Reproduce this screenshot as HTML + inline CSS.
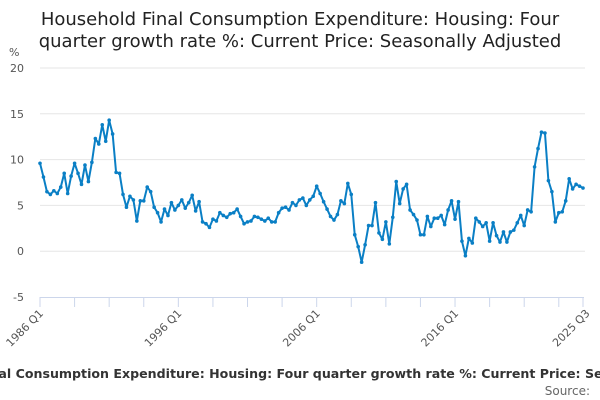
<!DOCTYPE html>
<html><head><meta charset="utf-8"><style>
html,body{margin:0;padding:0;background:#fff;width:600px;height:400px;overflow:hidden;font-family:"Liberation Sans","DejaVu Sans",sans-serif}
svg text{font-family:"DejaVu Sans","Liberation Sans",sans-serif}
</style></head><body>
<svg id="chart" width="600" height="400" viewBox="0 0 600 400">
<text x="300" y="25" text-anchor="middle" font-size="18" fill="#222">Household Final Consumption Expenditure: Housing: Four</text>
<text x="300" y="47" text-anchor="middle" font-size="18" fill="#222">quarter growth rate %: Current Price: Seasonally Adjusted</text>
<text x="9" y="56" font-size="11" fill="#555">%</text>
<g id="grid"></g><g id="xaxis"></g><g id="series"></g>
<text x="313" y="378" text-anchor="middle" font-size="12.6" font-weight="bold" fill="#333">Household Final Consumption Expenditure: Housing: Four quarter growth rate %: Current Price: Seasonally Adjusted</text>
<text x="590" y="395" text-anchor="end" font-size="12" fill="#666">Source:</text>
</svg>
<script>
const yTicks=[20,15,10,5,0,-5];
const xLabels=["1986 Q1","1996 Q1","2006 Q1","2016 Q1","2025 Q3"];
const xLabelIdx=[0,40,80,120,158];
const values=[
9.6,8.1,6.5,6.2, 6.6,6.3,7.0,8.5, 6.3,8.2,9.6,8.5, 7.3,9.4,7.6,9.7,
12.3,11.7,13.8,12.0, 14.3,12.8,8.6,8.5, 6.2,4.8,6.0,5.6, 3.3,5.5,5.5,7.0,
6.5,4.8,4.2,3.2, 4.6,3.9,5.3,4.5, 5.0,5.6,4.7,5.3, 6.1,4.4,5.4,3.2,
3.0,2.6,3.5,3.3, 4.2,3.9,3.7,4.1, 4.2,4.6,3.8,3.0, 3.2,3.3,3.8,
3.7,3.5,3.3, 3.6,3.2,3.2,4.2, 4.7,4.8,4.5,5.3, 5.0,5.6,5.8,5.0,
5.6,6.0,7.1,6.3, 5.4,4.6,3.8,3.4, 4.0,5.5,5.2,7.4, 6.2,1.8,0.5,-1.2,
0.7,2.8,2.8,5.3, 2.0,1.3,3.2,0.8, 3.7,7.6,5.2,6.8, 7.3,4.5,4.0,3.4,
1.8,1.8,3.8,2.7, 3.6,3.6,3.9,2.9, 4.5,5.5,3.5,5.4, 1.1,-0.5,1.4,0.9,
3.6,3.2,2.7,3.1, 1.1,3.1,1.7,1.0, 2.1,1.0,2.1,2.3, 3.1,3.9,2.8,4.5,
4.3,9.2,11.2,13.0, 12.9,7.7,6.5,3.2, 4.2,4.3,5.5,7.9, 6.8,7.3,7.1,6.9];
const NS="http://www.w3.org/2000/svg";
const X0=40,X1=583,Y20=68,Ym5=297;
const n=values.length;
function xs(i){return X0+(X1-X0)*i/(n-1);}
function ys(v){return Y20+(20-v)*(Ym5-Y20)/25;}
function mk(tag,attrs,parent){const e=document.createElementNS(NS,tag);for(const k in attrs)e.setAttribute(k,attrs[k]);parent.appendChild(e);return e;}
const grid=document.getElementById('grid'),xa=document.getElementById('xaxis'),ser=document.getElementById('series');
yTicks.forEach(t=>{
 if(t!==-5){const l=mk('line',{x1:X0,x2:X1+2,y1:ys(t),y2:ys(t),stroke:'#e6e6e6','stroke-width':1},grid);
 
 }
 const tx=mk('text',{x:24,y:ys(t)+4,'text-anchor':'end','font-size':11,fill:'#555'},grid);tx.textContent=t;
 
 
});
const ax=mk('line',{x1:X0,x2:X1+1,y1:ys(-5)+0.5,y2:ys(-5)+0.5,stroke:'#ccd6eb','stroke-width':1},xa);


for(let i=0;i<n;i+=10){const tk=mk('line',{x1:xs(i),x2:xs(i),y1:ys(-5),y2:ys(-5)+10,stroke:'#ccd6eb'},xa);
 
 }
const tl=mk('line',{x1:xs(n-1),x2:xs(n-1),y1:ys(-5),y2:ys(-5)+10,stroke:'#ccd6eb'},xa);


xLabels.forEach((s,k)=>{const x=xs(xLabelIdx[k])+4,y=ys(-5)+17;
 const t=mk('text',{x:x,y:y,'text-anchor':'end','font-size':11,fill:'#555',transform:`rotate(-45 ${x} ${y})`},xa);t.textContent=s;
 
 });
const pts=values.map((v,i)=>xs(i).toFixed(2)+','+ys(v).toFixed(2)).join(' ');
const pl=mk('polyline',{points:pts,fill:'none',stroke:'#0a7fc5','stroke-width':2,'stroke-linejoin':'round'},ser);


values.forEach((v,i)=>{const c=mk('circle',{cx:xs(i),cy:ys(v),r:1.8,fill:'#0a7fc5'},ser);
 
 });
</script>
</body></html>
